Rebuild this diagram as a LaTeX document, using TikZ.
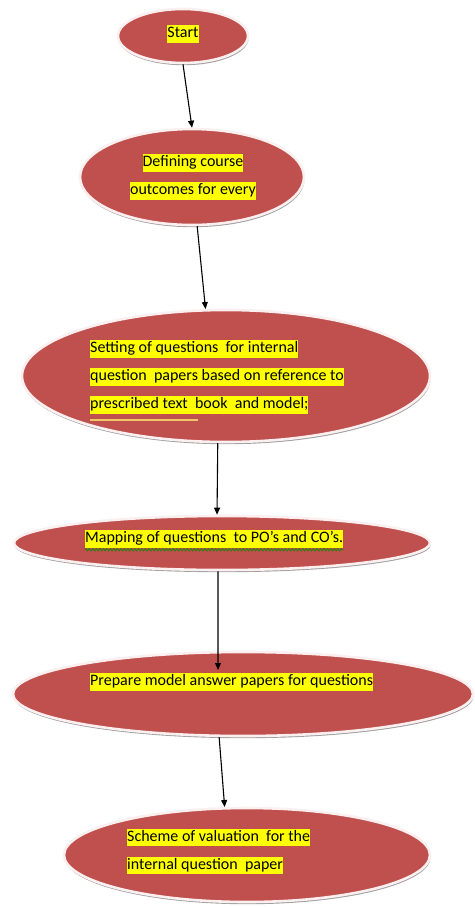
\documentclass[tikz,border=0pt]{standalone}
\usepackage{fontspec}
\setmainfont{Carlito}
\usetikzlibrary{shapes.geometric,arrows.meta,shadows,decorations.pathmorphing}
\definecolor{stepred}{HTML}{C0504D}
\definecolor{rimwhite}{HTML}{FBEFEF}
\definecolor{hlyellow}{HTML}{FFFF00}
\definecolor{lineorange}{HTML}{F2C46A}
% yellow text highlight, one box per line
\newcommand\hlt[1]{{\setlength\fboxsep{0pt}\colorbox{hlyellow}{\rule[-5pt]{0pt}{17.5pt}#1}}}
\begin{document}
\begin{tikzpicture}[x=1pt,y=-1pt,
  stage/.style={ellipse, inner sep=0pt, fill=stepred, draw=rimwhite, line width=2.6pt,
    drop shadow={shadow xshift=0.6pt, shadow yshift=-2.2pt, fill=black!38, opacity=1}},
  txt/.style={font=\fontsize{16}{28}\selectfont, inner sep=0pt, text=black},
  flow/.style={draw=black, line width=1.1pt, -{Triangle[length=7pt,width=6pt]}}]
\useasboundingbox (0,0) rectangle (474,907);

% stages
\node[stage, minimum width=130pt, minimum height=54pt] (e1) at (183,36) {};
\node[stage, minimum width=224pt, minimum height=96pt] (e2) at (192,177) {};
\node[stage, minimum width=408pt, minimum height=132pt] (e3) at (226,376) {};
\node[stage, minimum width=416pt, minimum height=54pt] (e4) at (222,543) {};
\node[stage, minimum width=460pt, minimum height=84pt] (e5) at (243,694) {};
\node[stage, minimum width=366pt, minimum height=94pt] (e6) at (247,855) {};

% labels
\node[txt] (t1) at (183,34) {\hlt{Start}};
\node[txt, align=center] (t2) at (193,177) {\hlt{Defining course}\\\hlt{outcomes for every}};
\node[txt, align=left, anchor=west] (t3) at (90,377)
  {\hlt{Setting of questions\ \ for internal}\\\hlt{question\ \ papers based on reference to}\\\hlt{prescribed text\ \ book\ \ and model;}};
\node[txt, anchor=west] (t4) at (85,539) {\hlt{Mapping of questions\ \ to PO’s and CO’s.}};
\node[txt, anchor=west] (t5) at (90,682) {\hlt{Prepare model answer papers for questions}};
\node[txt, align=left, anchor=west] (t6) at (127,851.5)
  {\hlt{Scheme of valuation\ \ for the}\\\hlt{internal question\ \ paper}};

% underlines
\draw[lineorange, line width=1.4pt] ([yshift=-6pt]t3.south west) -- +(108,0);
\draw[green!55!black, line width=0.6pt, decorate,
  decoration={zigzag, amplitude=1.3pt, segment length=3.5pt}]
  ([yshift=-1.8pt]t4.south west) -- ([yshift=-1.8pt]t4.south east);

% connectors
\coordinate (a4) at (218,670);
\draw[flow] (e1.south) -- (e2.north);
\draw[flow] (e2.-84) -- (e3.107);
\draw[flow] (e3.-97) -- (e4.100);
\draw[flow] (e4.-98) -- (a4);
\draw[flow] (e5.-119) -- (e6.115);
\end{tikzpicture}
\end{document}
